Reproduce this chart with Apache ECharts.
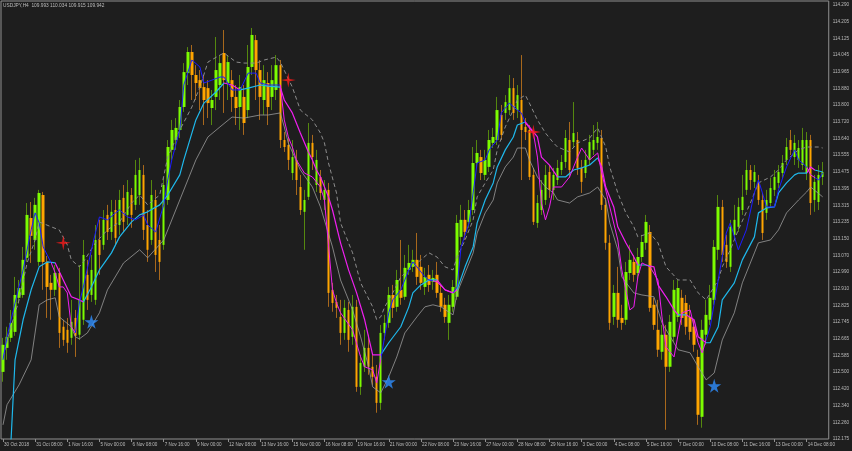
<!DOCTYPE html>
<html><head><meta charset="utf-8">
<script src="https://cdn.jsdelivr.net/npm/echarts@6/dist/echarts.min.js"></script>
<style>html,body{margin:0;padding:0;background:#1e1e1e;}#c{width:852px;height:451px;}</style>
</head><body><div id="c"></div>
<script>
const TITLE = 'USDJPY,H4  109.993 110.034 109.915 109.942';
const TIME_LABELS = ['30 Oct 2018','31 Oct 08:00','1 Nov 16:00','5 Nov 00:00','6 Nov 08:00','7 Nov 16:00','9 Nov 00:00','12 Nov 08:00','13 Nov 16:00','15 Nov 00:00','16 Nov 08:00','19 Nov 16:00','21 Nov 00:00','22 Nov 08:00','23 Nov 16:00','27 Nov 00:00','28 Nov 08:00','29 Nov 16:00','3 Dec 00:00','4 Dec 08:00','5 Dec 16:00','7 Dec 00:00','10 Dec 08:00','11 Dec 16:00','13 Dec 00:00','14 Dec 08:00'];
const PRICE_LABELS = ['114.290','114.205','114.125','114.045','113.965','113.880','113.800','113.720','113.640','113.555','113.475','113.395','113.315','113.235','113.150','113.070','112.990','112.910','112.825','112.745','112.665','112.585','112.500','112.420','112.340','112.260','112.175'];

const OPEN = [112.502,112.619,112.668,112.697,112.863,112.877,113.058,113.252,113.145,113.038,
113.364,113.038,112.936,112.902,112.984,112.722,112.707,112.668,112.765,112.683,
112.756,112.975,112.877,112.853,113.145,113.121,113.267,113.184,113.291,113.218,
113.350,113.267,113.364,113.316,113.364,113.462,113.218,113.145,113.340,113.145,
113.121,113.340,113.584,113.632,113.681,113.793,113.958,114.061,113.949,113.924,
113.890,113.885,113.788,113.842,113.900,114.056,113.910,113.924,113.842,113.793,
113.842,113.778,113.988,114.119,113.973,113.827,113.910,113.842,113.876,113.997,
113.632,113.608,113.471,113.535,113.403,113.282,113.355,113.618,113.413,113.452,
113.340,113.389,112.902,112.843,112.770,112.692,112.804,112.673,112.819,112.429,
112.527,112.619,112.527,112.478,112.351,112.692,112.741,112.877,112.819,112.902,
112.868,112.999,113.014,113.048,113.014,112.916,112.975,112.941,112.975,112.887,
112.829,112.741,112.819,112.868,113.160,113.243,113.233,113.291,113.520,113.549,
113.462,113.501,113.618,113.632,113.754,113.764,113.778,113.885,113.778,113.827,
113.696,113.681,113.462,113.228,113.291,113.340,113.476,113.389,113.437,113.486,
113.525,113.632,113.622,113.632,113.496,113.471,113.535,113.584,113.618,113.642,
113.316,113.131,112.770,112.887,112.765,112.756,112.984,113.038,112.984,113.062,
113.131,113.184,112.829,112.707,112.600,112.683,112.527,112.673,112.770,112.863,
112.838,112.770,112.722,112.575,112.283,112.683,112.756,112.853,113.097,113.306,
113.121,113.014,113.170,113.209,113.291,113.389,113.486,113.428,113.423,113.340,
113.277,113.325,113.389,113.423,113.471,113.535,113.632,113.549,113.535,113.510,
113.471,113.632,113.340,113.330,113.452];
const CLOSE = [112.634,112.673,112.741,112.877,112.911,113.048,113.267,113.165,113.316,113.374,
113.038,112.916,112.902,112.984,112.692,112.658,112.644,112.746,112.678,112.853,
113.072,112.853,112.999,113.145,113.072,113.243,113.184,113.282,113.155,113.340,
113.233,113.379,113.267,113.462,113.486,113.194,113.097,113.364,113.072,113.038,
113.413,113.598,113.681,113.691,113.793,113.963,114.061,113.949,113.910,113.885,
113.827,113.812,113.827,113.973,114.007,113.924,114.012,113.842,113.788,113.890,
113.715,113.988,114.144,113.973,113.842,113.924,113.793,113.924,113.997,113.632,
113.598,113.535,113.549,113.437,113.291,113.340,113.618,113.549,113.535,113.374,
113.389,112.887,112.838,112.814,112.692,112.814,112.658,112.819,112.429,112.546,
112.619,112.527,112.478,112.351,112.692,112.741,112.877,112.814,112.950,112.863,
113.009,113.033,113.048,112.965,112.936,112.965,112.926,112.960,112.887,112.819,
112.770,112.829,112.916,113.228,113.243,113.184,113.291,113.520,113.569,113.471,
113.535,113.632,113.647,113.778,113.657,113.817,113.885,113.764,113.851,113.681,
113.671,113.452,113.233,113.325,113.389,113.462,113.389,113.462,113.496,113.525,
113.642,113.486,113.666,113.496,113.428,113.535,113.622,113.632,113.647,113.316,
113.131,112.741,112.887,112.756,112.741,112.989,113.048,112.975,113.062,113.135,
113.233,112.814,112.731,112.610,112.683,112.527,112.746,112.902,112.911,112.765,
112.722,112.697,112.634,112.293,112.707,112.780,112.863,113.111,113.306,113.072,
113.038,113.209,113.243,113.306,113.355,113.486,113.437,113.476,113.340,113.179,
113.340,113.398,113.452,113.476,113.520,113.598,113.584,113.618,113.593,113.632,
113.632,113.325,113.428,113.462,113.476];
const LOW = [112.454,112.561,112.648,112.678,112.834,112.863,113.038,113.033,113.097,113.019,
112.902,112.765,112.756,112.872,112.619,112.629,112.595,112.634,112.575,112.658,
112.731,112.804,112.843,112.829,112.975,113.097,113.145,113.145,113.121,113.170,
113.184,113.218,113.204,113.291,113.316,113.145,113.038,113.121,112.989,112.950,
113.097,113.316,113.535,113.584,113.642,113.769,113.900,113.827,113.827,113.778,
113.705,113.739,113.705,113.778,113.827,113.764,113.827,113.769,113.705,113.681,
113.657,113.739,113.949,113.827,113.730,113.754,113.705,113.778,113.827,113.593,
113.574,113.486,113.437,113.364,113.267,113.097,113.340,113.486,113.379,113.340,
113.291,112.819,112.795,112.765,112.634,112.658,112.600,112.634,112.405,112.390,
112.502,112.488,112.439,112.303,112.317,112.658,112.717,112.765,112.795,112.829,
112.853,112.975,112.989,112.926,112.902,112.877,112.892,112.902,112.863,112.795,
112.741,112.658,112.795,112.853,113.121,113.145,113.204,113.267,113.496,113.437,
113.437,113.476,113.593,113.608,113.632,113.730,113.754,113.730,113.739,113.437,
113.632,113.437,113.218,113.204,113.267,113.316,113.350,113.340,113.413,113.462,
113.496,113.447,113.593,113.462,113.374,113.447,113.510,113.559,113.584,113.291,
113.097,112.707,112.731,112.717,112.707,112.731,112.950,112.941,112.950,113.038,
113.097,112.795,112.707,112.575,112.561,112.220,112.502,112.648,112.746,112.731,
112.683,112.658,112.600,112.244,112.230,112.634,112.731,112.829,113.048,113.038,
113.009,112.989,113.145,113.184,113.267,113.364,113.389,113.398,113.316,113.145,
113.243,113.301,113.359,113.398,113.447,113.510,113.559,113.510,113.496,113.486,
113.437,113.267,113.282,113.291,113.413];
const HIGH = [112.668,112.722,112.804,112.965,112.950,113.111,113.325,113.330,113.350,113.389,
113.379,113.067,112.975,113.023,113.009,112.756,112.765,112.853,112.804,113.023,
113.145,113.048,113.072,113.218,113.243,113.291,113.316,113.340,113.340,113.389,
113.413,113.437,113.398,113.535,113.545,113.510,113.291,113.437,113.389,113.218,
113.447,113.632,113.730,113.739,113.827,114.007,114.085,114.095,113.997,113.973,
113.949,113.924,113.876,114.134,114.046,114.168,114.046,113.973,113.900,113.949,
113.900,114.095,114.178,114.144,114.022,113.997,113.963,113.997,114.046,114.022,
113.671,113.642,113.632,113.584,113.462,113.389,113.715,113.657,113.584,113.486,
113.437,113.423,112.936,112.877,112.853,112.853,112.843,112.877,112.853,112.585,
112.707,112.683,112.585,112.536,112.731,112.780,112.916,112.926,112.999,113.145,
113.072,113.121,113.097,113.179,113.072,113.009,113.023,112.999,113.038,112.926,
112.863,112.877,112.950,113.267,113.316,113.291,113.340,113.598,113.632,113.584,
113.584,113.681,113.691,113.842,113.803,113.851,113.949,113.934,113.900,114.046,
113.739,113.705,113.496,113.364,113.437,113.510,113.510,113.496,113.535,113.559,
113.681,113.720,113.817,113.671,113.535,113.584,113.657,113.705,113.720,113.681,
113.350,113.170,112.926,113.014,112.829,113.038,113.121,113.072,113.106,113.170,
113.267,113.218,112.863,112.853,112.731,112.731,112.780,112.950,112.950,112.902,
112.877,112.829,112.756,112.610,112.756,112.853,112.926,113.145,113.364,113.340,
113.170,113.243,113.316,113.350,113.462,113.535,113.510,113.510,113.462,113.374,
113.389,113.447,113.486,113.510,113.559,113.642,113.681,113.657,113.632,113.691,
113.671,113.657,113.462,113.510,113.525];

const FAST_LINE = [[0,112.561],[1,112.673],[3,112.838],[5,112.999],[7,113.194],[8,113.277],[9,113.228],[10,113.111],[12,113.033],[13,112.984],[14,112.916],[15,112.916],[16,112.887],[17,112.722],[18,112.692],[19,112.838],[20,112.916],[22,113.097],[23,113.179],[24,113.257],[26,113.243],[28,113.277],[29,113.291],[31,113.257],[33,113.243],[35,113.267],[36,113.218],[38,113.184],[40,113.316],[41,113.437],[42,113.535],[44,113.681],[45,113.900],[47,114.022],[49,113.988],[50,113.910],[52,113.924],[54,113.939],[55,113.939],[57,113.876],[59,113.876],[61,113.958],[63,113.958],[64,113.910],[66,113.900],[69,113.900],[70,113.730],[71,113.647],[72,113.598],[73,113.535],[75,113.471],[77,113.452],[79,113.403],[80,113.340],[82,112.902],[83,112.838],[84,112.790],[87,112.707],[89,112.575],[90,112.527],[92,112.512],[93,112.449],[94,112.561],[96,112.790],[97,112.853],[99,112.902],[101,112.999],[102,113.038],[103,113.014],[105,112.965],[106,112.950],[108,112.941],[110,112.902],[112,112.887],[113,112.916],[114,113.111],[116,113.228],[117,113.374],[118,113.520],[120,113.535],[121,113.584],[123,113.632],[124,113.764],[126,113.812],[128,113.778],[129,113.764],[130,113.715],[132,113.666],[133,113.549],[134,113.325],[135,113.243],[136,113.306],[137,113.403],[139,113.403],[141,113.452],[143,113.549],[144,113.593],[146,113.535],[148,113.569],[149,113.471],[151,113.306],[153,113.145],[154,112.999],[156,112.804],[157,112.819],[158,112.965],[159,113.033],[161,113.014],[163,112.950],[164,112.770],[165,112.624],[167,112.575],[168,112.683],[169,112.790],[171,112.804],[172,112.722],[173,112.644],[174,112.595],[176,112.722],[178,112.950],[180,113.179],[181,113.228],[183,113.097],[185,113.194],[187,113.374],[188,113.437],[189,113.374],[190,113.306],[192,113.306],[193,113.389],[195,113.501],[197,113.584],[198,113.535],[200,113.501],[201,113.462],[203,113.437],[204,113.471]];
const SLOW_LINE = [[2,112.171],[3,112.561],[5,112.756],[7,112.902],[9,113.014],[11,113.038],[13,113.033],[15,112.950],[17,112.868],[19,112.853],[20,112.843],[22,112.916],[24,112.999],[27,113.082],[29,113.160],[32,113.233],[34,113.267],[36,113.282],[39,113.316],[41,113.364],[44,113.462],[45,113.535],[48,113.730],[50,113.812],[53,113.866],[55,113.910],[57,113.900],[59,113.876],[61,113.885],[64,113.900],[66,113.895],[69,113.890],[70,113.827],[72,113.764],[74,113.666],[76,113.574],[77,113.535],[78,113.486],[79,113.452],[81,113.355],[82,113.291],[84,113.131],[86,112.999],[88,112.887],[90,112.756],[92,112.585],[94,112.585],[96,112.644],[99,112.722],[101,112.819],[102,112.887],[104,112.926],[106,112.950],[108,112.950],[110,112.902],[112,112.887],[113,112.902],[115,113.014],[117,113.111],[118,113.228],[120,113.340],[122,113.423],[123,113.501],[125,113.584],[127,113.647],[128,113.705],[130,113.720],[131,113.696],[133,113.647],[134,113.549],[136,113.510],[138,113.452],[140,113.452],[142,113.486],[144,113.496],[146,113.510],[148,113.545],[149,113.501],[150,113.403],[152,113.306],[153,113.209],[155,113.131],[157,113.062],[158,113.023],[160,113.023],[162,113.014],[163,112.926],[165,112.868],[167,112.804],[168,112.780],[170,112.780],[172,112.756],[173,112.673],[175,112.644],[176,112.644],[178,112.722],[179,112.853],[182,112.936],[184,113.048],[187,113.160],[188,113.277],[190,113.301],[192,113.306],[193,113.374],[195,113.423],[197,113.462],[198,113.471],[200,113.471],[201,113.501],[202,113.486],[204,113.476]];
const UPPER_BAND = [[0,112.575],[2,112.722],[4,112.853],[6,113.033],[8,113.145],[9,113.233],[12,113.209],[14,113.194],[16,113.121],[17,113.048],[19,113.014],[20,113.038],[23,113.131],[26,113.194],[29,113.233],[32,113.325],[34,113.364],[36,113.316],[39,113.364],[41,113.549],[44,113.681],[47,113.793],[49,113.890],[51,114.012],[54,114.046],[55,114.056],[58,114.012],[60,114.007],[63,114.007],[65,114.022],[68,114.036],[69,114.012],[72,113.890],[74,113.778],[77,113.730],[79,113.666],[80,113.618],[81,113.520],[83,113.374],[84,113.228],[87,113.082],[89,112.936],[92,112.819],[93,112.756],[94,112.770],[95,112.819],[97,112.887],[99,112.965],[102,113.014],[104,113.048],[106,113.082],[108,113.062],[110,113.014],[112,112.999],[113,113.062],[115,113.145],[117,113.243],[118,113.355],[120,113.423],[122,113.486],[123,113.584],[125,113.696],[127,113.778],[128,113.827],[130,113.851],[131,113.812],[133,113.730],[135,113.666],[137,113.618],[138,113.598],[141,113.574],[143,113.618],[146,113.642],[148,113.691],[150,113.598],[151,113.501],[153,113.374],[155,113.277],[157,113.209],[158,113.160],[161,113.179],[163,113.131],[165,113.014],[168,112.950],[171,112.950],[173,112.887],[175,112.853],[178,112.950],[179,113.014],[181,113.097],[183,113.194],[186,113.325],[188,113.423],[191,113.452],[193,113.486],[195,113.535],[198,113.584],[200,113.598],[203,113.598],[204,113.593]];
const LOWER_BAND = [[0,112.244],[1,112.342],[4,112.439],[7,112.561],[9,112.829],[11,112.853],[13,112.863],[14,112.770],[17,112.722],[18,112.673],[19,112.663],[21,112.692],[24,112.790],[26,112.902],[30,113.033],[34,113.097],[36,113.058],[40,113.145],[44,113.340],[48,113.535],[51,113.647],[54,113.696],[57,113.744],[60,113.739],[64,113.754],[66,113.754],[69,113.764],[70,113.696],[71,113.618],[74,113.486],[77,113.403],[79,113.306],[82,113.111],[84,112.950],[87,112.804],[89,112.673],[91,112.527],[92,112.429],[94,112.400],[96,112.478],[98,112.575],[100,112.692],[103,112.770],[105,112.819],[107,112.829],[109,112.819],[112,112.780],[113,112.887],[115,112.984],[117,113.082],[118,113.179],[120,113.277],[122,113.340],[123,113.423],[125,113.501],[127,113.549],[128,113.593],[130,113.593],[131,113.535],[133,113.452],[135,113.403],[137,113.374],[138,113.340],[141,113.325],[143,113.355],[146,113.374],[148,113.403],[150,113.340],[151,113.228],[153,113.097],[154,112.965],[157,112.887],[159,112.877],[162,112.868],[164,112.741],[168,112.610],[171,112.595],[173,112.527],[175,112.463],[177,112.497],[179,112.658],[182,112.790],[184,112.936],[187,113.082],[188,113.131],[191,113.145],[193,113.194],[195,113.277],[198,113.340],[200,113.379],[201,113.403],[204,113.355]];
const FAST_DOWN = [[12,18],[69,94],[107,112],[130,175],[200,202]];
const SLOW_DOWN = [[13,20],[55,59],[69,94],[108,113],[130,138],[148,158],[161,168],[170,175],[200,202]];
const SELL_SIGNALS = [[15,113.131],[71,113.924],[132,113.671]];
const BUY_SIGNALS = [[22,112.746],[96,112.454],[177,112.434]];

const N_CAT = 206;
const BG = '#1e1e1e', TXT = '#bdbdbd', FONT = 'Liberation Sans';
const C_BULL = '#7cfc00', C_BEAR = '#ffa500', W_BULL = '#55880f', W_BEAR = '#a8681c';
const C_BLUE = '#1c1cff', C_CYAN = '#1eb8ec', C_MAG = '#f01ef0', C_GRAY = '#8c8c8c';

const categories = Array.from({length: N_CAT}, (_, i) => (i % 8 === 0 && TIME_LABELS[i / 8]) ? TIME_LABELS[i / 8] : 'bar' + i);
const isTimeTick = (idx) => idx % 8 === 0 && idx / 8 < TIME_LABELS.length;
const TOP = parseFloat(PRICE_LABELS[0]);
const BOT = parseFloat(PRICE_LABELS[PRICE_LABELS.length - 1]);
const STEP = (TOP - BOT) / (PRICE_LABELS.length - 1);
const TICKS = PRICE_LABELS.map((_, k) => +(TOP - k * STEP).toFixed(6));

const wickData = OPEN.map((o, i) => [o, CLOSE[i], LOW[i], HIGH[i]]);
const bodyData = OPEN.map((o, i) => [o, CLOSE[i], Math.min(o, CLOSE[i]), Math.max(o, CLOSE[i])]);

function pieces(down, upColor, downColor) {
  const out = []; let s = -1;
  down.forEach(([a, b]) => { out.push({gte: s, lt: a, color: upColor}); out.push({gte: a, lt: b, color: downColor}); s = b; });
  out.push({gte: s, lte: N_CAT + 1, color: upColor});
  return out;
}

const STAR4 = 'path://M50,0 L58,42 L100,50 L58,58 L50,100 L42,58 L0,50 L42,42 Z';
const STAR5 = 'path://M50,0 L61,35 L98,35 L68,57 L79,91 L50,70 L21,91 L32,57 L2,35 L39,35 Z';

const chart = echarts.init(document.getElementById('c'), null, {renderer: 'canvas'});
chart.setOption({
  backgroundColor: BG,
  animation: false,
  graphic: [{type: 'text', left: 3, top: 3, silent: true,
    style: {text: TITLE, fill: TXT, font: '4.8px "' + FONT + '"'}}],
  grid: {left: 1, right: 23, top: 1, bottom: 12, show: true, borderColor: '#909090', borderWidth: 1, backgroundColor: 'transparent'},
  xAxis: {
    type: 'category', data: categories, boundaryGap: true,
    axisLine: {show: false},
    axisTick: {show: true, interval: (i) => isTimeTick(i), alignWithLabel: true, length: 3, lineStyle: {color: '#909090', width: 1}},
    axisLabel: {interval: (i) => isTimeTick(i), formatter: (v) => TIME_LABELS.includes(v) ? v : '',
      align: 'left', margin: 3, padding: [0, 0, 0, 1], color: TXT, fontSize: 4.6, fontFamily: FONT},
    splitLine: {show: false}
  },
  yAxis: {
    type: 'value', position: 'right', min: BOT, max: 114.3095, scale: true,
    axisLine: {show: false}, axisTick: {show: false}, splitLine: {show: false},
    axisLabel: {customValues: TICKS, formatter: (v) => PRICE_LABELS[Math.round((TOP - v) / STEP)] || '',
      color: TXT, fontSize: 4.6, fontFamily: FONT, margin: 4}
  },
  visualMap: [
    {type: 'piecewise', show: false, dimension: 0, seriesIndex: 4, pieces: pieces(SLOW_DOWN, C_CYAN, C_MAG)},
    {type: 'piecewise', show: false, dimension: 0, seriesIndex: 5, pieces: pieces(FAST_DOWN, C_BLUE, C_MAG)}
  ],
  series: [
    {type: 'candlestick', data: wickData, barWidth: 1, silent: true, z: 2,
      itemStyle: {color: W_BULL, color0: W_BEAR, borderColor: W_BULL, borderColor0: W_BEAR, borderWidth: 1}},
    {type: 'candlestick', data: bodyData, barWidth: 3, silent: true, z: 3,
      itemStyle: {color: C_BULL, color0: C_BEAR, borderColor: C_BULL, borderColor0: C_BEAR, borderWidth: 0}},
    {type: 'line', data: LOWER_BAND, showSymbol: false, silent: true, z: 4,
      lineStyle: {color: '#9a9a9a', width: 0.8}},
    {type: 'line', data: UPPER_BAND, showSymbol: false, silent: true, z: 4,
      lineStyle: {color: C_GRAY, width: 1, type: [4, 3]}},
    {type: 'line', data: SLOW_LINE, showSymbol: false, silent: true, z: 5,
      lineStyle: {width: 1.2}},
    {type: 'line', data: FAST_LINE, showSymbol: false, silent: true, z: 6,
      lineStyle: {width: 1}},
    {type: 'scatter', data: SELL_SIGNALS, symbol: STAR4, symbolSize: 15, silent: true, z: 8,
      itemStyle: {color: '#ff1a1a'}},
    {type: 'scatter', data: BUY_SIGNALS, symbol: STAR5, symbolSize: 14, silent: true, z: 8,
      itemStyle: {color: '#2e8fff'}}
  ]
});
</script></body></html>
